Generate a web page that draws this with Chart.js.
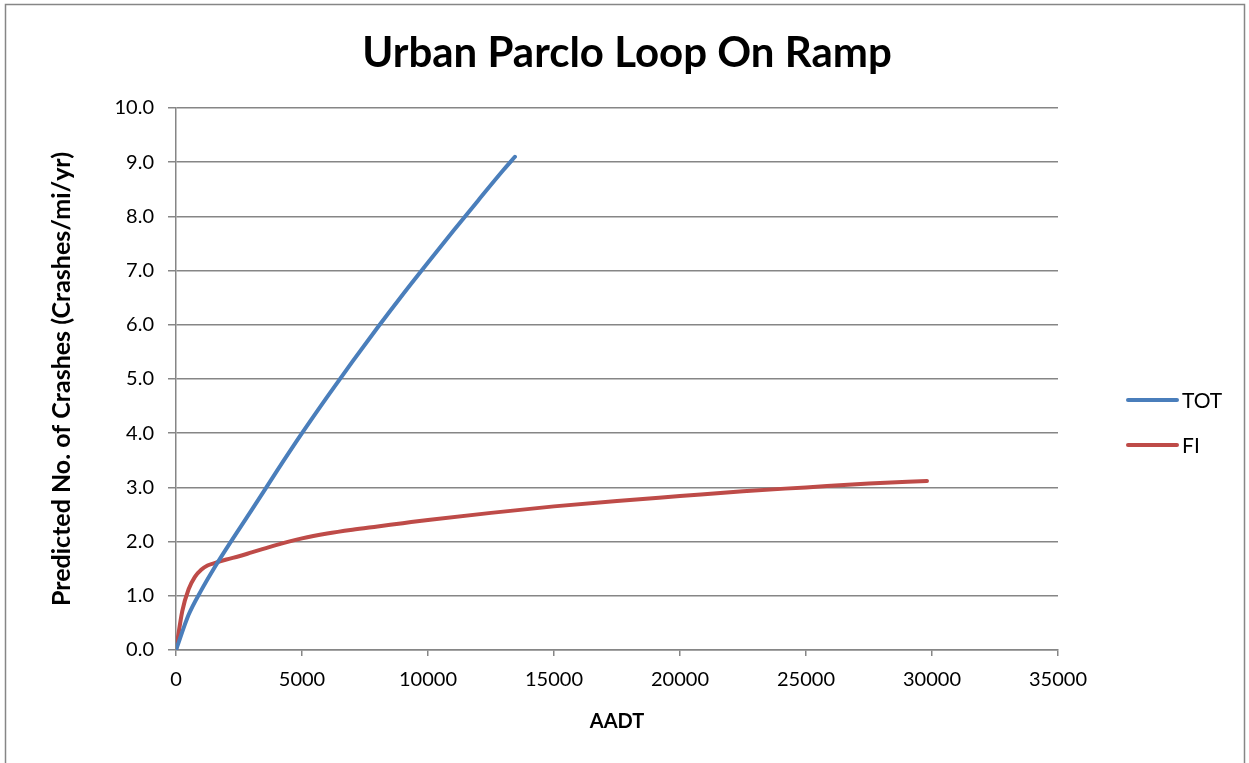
<!DOCTYPE html>
<html>
<head>
<meta charset="utf-8">
<title>Urban Parclo Loop On Ramp</title>
<script src="https://cdn.jsdelivr.net/npm/chart.js@4/dist/chart.umd.min.js"></script>
<style>
    html, body { margin: 0; padding: 0; background: #fff; }
    #wrap { width: 1249px; height: 763px; }
</style>
</head>
<body>
<div id="wrap"><canvas id="crashes"></canvas></div>
<script>
// values
const chart_title = "Urban Parclo Loop On Ramp";
const x_title = "AADT";
const y_title = "Predicted No. of Crashes (Crashes/mi/yr)";

const tot_label = "TOT";
const tot_aadt = [0, 500, 1000, 1500, 2000, 3000, 4000, 5000, 6000, 7000, 8000, 9000, 10000, 11000, 12000, 13000, 13450];
const tot_vals = [0, 0.65, 1.1, 1.5, 1.87, 2.58, 3.3, 4.0, 4.67, 5.32, 5.95, 6.56, 7.15, 7.73, 8.3, 8.86, 9.1];

const fi_label = "FI";
const fi_aadt = [0, 250, 500, 750, 1000, 1250, 1500, 2000, 2500, 3000, 3500, 4000, 5000, 6000, 7000, 8000, 9000, 10000, 12500, 15000, 17500, 20000, 22500, 25000, 27500, 29800];
const fi_vals = [0, 0.72, 1.12, 1.35, 1.48, 1.56, 1.6, 1.67, 1.73, 1.8, 1.87, 1.94, 2.06, 2.15, 2.22, 2.28, 2.34, 2.4, 2.53, 2.65, 2.75, 2.84, 2.93, 3.0, 3.07, 3.12];

const x_max = 35000;
const x_step = 5000;
const y_max = 10;
const y_step = 1;

const blue = "#4a7ebb";
const red = "#be4b48";
const grey = "#868686";
const font_family = "Lato, 'Open Sans', sans-serif";

function toPoints(xs, ys) {
    let pts = [];
    for (let i = 0; i < xs.length; i++) {
        pts.push({x: xs[i], y: ys[i]});
    }
    return pts;
}

// frame round the picture, the title and the legend at the right
const framePlugin = {
    id: "frame",
    afterDraw(chart) {
        let ctx = chart.ctx;
        ctx.save();
        ctx.strokeStyle = grey;
        ctx.lineWidth = 1.5;
        ctx.strokeRect(5.5, 4.5, 1239, 762);

        ctx.fillStyle = "#000";
        ctx.font = "bold 42px " + font_family;
        ctx.textAlign = "center";
        ctx.textBaseline = "alphabetic";
        ctx.fillText(chart_title, 627, 67);

        let items = chart.data.datasets;
        let y0 = 400;
        ctx.font = "21px " + font_family;
        ctx.textBaseline = "middle";
        ctx.textAlign = "left";
        for (let i = 0; i < items.length; i++) {
            let yy = y0 + i * 45;
            ctx.strokeStyle = items[i].borderColor;
            ctx.lineWidth = 4;
            ctx.lineCap = "round";
            ctx.beginPath();
            ctx.moveTo(1128, yy);
            ctx.lineTo(1177, yy);
            ctx.stroke();
            ctx.fillStyle = "#000";
            ctx.fillText(items[i].label, 1182, yy + 1);
        }
        ctx.restore();
    }
};

let ctx = document.getElementById("crashes").getContext("2d");
let chart = new Chart(ctx, {
    type: "scatter",
    data: {
        datasets: [
            {
                label: tot_label,
                data: toPoints(tot_aadt, tot_vals),
                showLine: true,
                borderColor: blue,
                backgroundColor: blue,
                borderWidth: 4,
                pointRadius: 0,
                cubicInterpolationMode: "monotone",
                borderCapStyle: "round"
            },
            {
                label: fi_label,
                data: toPoints(fi_aadt, fi_vals),
                showLine: true,
                borderColor: red,
                backgroundColor: red,
                borderWidth: 4,
                pointRadius: 0,
                cubicInterpolationMode: "monotone",
                borderCapStyle: "round"
            }
        ]
    },
    options: {
        responsive: true,
        maintainAspectRatio: false,
        animation: false,
        layout: {
            padding: {left: 0, right: 191, top: 108, bottom: 0}
        },
        plugins: {
            legend: {display: false},
            tooltip: {enabled: false},
            title: {display: false}
        },
        scales: {
            x: {
                type: "linear",
                min: 0,
                max: x_max,
                afterFit: function(scale) { scale.height = 113; },
                ticks: {
                    stepSize: x_step,
                    color: "#000",
                    padding: 12,
                    maxRotation: 0,
                    font: {family: font_family, size: 20},
                    callback: function(v) { return String(v); }
                },
                grid: {
                    drawOnChartArea: false,
                    color: grey,
                    lineWidth: 1.5,
                    tickLength: 6
                },
                border: {color: grey, width: 1.5},
                title: {
                    display: true,
                    text: x_title,
                    color: "#000",
                    font: {family: font_family, size: 20, weight: "bold"},
                    padding: {top: 0, bottom: 29}
                }
            },
            y: {
                type: "linear",
                min: 0,
                max: y_max,
                afterFit: function(scale) { scale.width = 176; },
                ticks: {
                    stepSize: y_step,
                    color: "#000",
                    padding: 14,
                    font: {family: font_family, size: 20},
                    callback: function(v) { return v.toFixed(1); }
                },
                grid: {
                    color: grey,
                    lineWidth: 1.5,
                    tickLength: 8
                },
                border: {color: grey, width: 1.5},
                title: {
                    display: true,
                    text: y_title,
                    color: "#000",
                    font: {family: font_family, size: 25, weight: "bold"},
                    padding: {top: 47, bottom: 0}
                }
            }
        }
    },
    plugins: [framePlugin]
});
</script>
</body>
</html>
